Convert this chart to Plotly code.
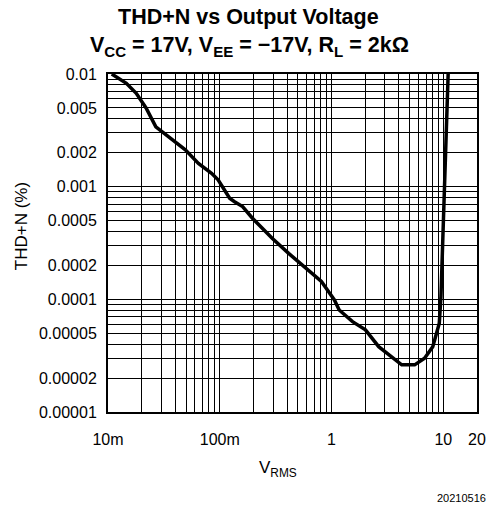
import plotly.graph_objects as go
import math

vrms = [0.0108, 0.0146, 0.0179, 0.0219, 0.0268, 0.0375, 0.0492, 0.0644, 0.0844,
        0.0966, 0.1068, 0.1225, 0.1355, 0.160, 0.196, 0.294, 0.413, 0.541, 0.811,
        1.06, 1.17, 1.54, 2.01, 2.64, 4.24, 5.54, 6.79, 8.04, 9.2, 9.52, 11.04]
thd = [0.01, 0.00826, 0.00674, 0.005, 0.0034, 0.0026, 0.00212, 0.00161, 0.001315,
       0.00115, 0.00097, 0.000789, 0.000736, 0.000665, 0.000525, 0.000348, 0.000256,
       0.000202, 0.000144, 0.0000988, 0.0000805, 0.0000634, 0.0000536, 0.000038,
       0.0000262, 0.0000262, 0.00003, 0.000038, 0.0000614, 0.000106, 0.01]

x_tickvals = [0.01, 0.1, 1, 10, 20]
x_ticktext = ["10m", "100m", "1", "10", "20"]
y_tickvals = [0.01, 0.005, 0.002, 0.001, 0.0005, 0.0002, 0.0001, 0.00005, 0.00002, 0.00001]
y_ticktext = ["0.01", "0.005", "0.002", "0.001", "0.0005", "0.0002", "0.0001",
              "0.00005", "0.00002", "0.00001"]

x_minor = [m * 10 ** e for e in range(-2, 2) for m in range(1, 10) if m * 10 ** e <= 20.001]
x_minor.append(20)
y_minor = [m * 10 ** e for e in range(-5, -2) for m in range(1, 10)]

FONT = "Liberation Sans, Arial, sans-serif"

fig = go.Figure()
fig.add_trace(go.Scatter(x=vrms, y=thd, mode="lines",
                         line=dict(color="black", width=3.5), showlegend=False))

axis_common = dict(showline=True, linecolor="black", linewidth=2, mirror=True,
                   showgrid=True, gridcolor="black", gridwidth=1, ticks="",
                   zeroline=False, tickfont=dict(family=FONT, size=16, color="black"))

fig.update_xaxes(type="log", range=[math.log10(0.01), math.log10(20)],
                 tickmode="array", tickvals=x_tickvals, ticktext=x_ticktext,
                 minor=dict(tickvals=x_minor, showgrid=True, gridcolor="black",
                            gridwidth=1, ticks=""),
                 ticklabelstandoff=12, **axis_common)
fig.update_yaxes(type="log", range=[-5, -2],
                 tickmode="array", tickvals=y_tickvals, ticktext=y_ticktext,
                 minor=dict(tickvals=y_minor, showgrid=True, gridcolor="black",
                            gridwidth=1, ticks=""),
                 ticklabelstandoff=6, **axis_common)

fig.update_layout(
    width=498, height=509,
    margin=dict(l=108, r=16, t=74, b=97),
    plot_bgcolor="white", paper_bgcolor="white",
    font=dict(family=FONT, color="black"),
)

plot_top, plot_bot = 74, 412
plot_left, plot_right = 108, 482
def py(ypix):
    return (plot_bot - ypix) / (plot_bot - plot_top)
def px(xpix):
    return (xpix - plot_left) / (plot_right - plot_left)

fig.add_annotation(text="<b>THD+N vs Output Voltage</b>", xref="paper", yref="paper",
                   x=px(250), y=py(17), xanchor="center", yanchor="middle",
                   showarrow=False, font=dict(size=21.5, family=FONT))
fig.add_annotation(text="<b>V<sub>CC</sub> = 17V, V<sub>EE</sub> = \u221217V, R<sub>L</sub> = 2k\u03a9</b>",
                   xref="paper", yref="paper",
                   x=px(251), y=py(46), xanchor="center", yanchor="middle",
                   showarrow=False, font=dict(size=21.5, family=FONT))
fig.add_annotation(text="THD+N (%)", xref="paper", yref="paper",
                   x=px(20), y=py(226), xanchor="center", yanchor="middle",
                   textangle=-90, showarrow=False, font=dict(size=17, family=FONT))
fig.add_annotation(text="V<sub>RMS</sub>", xref="paper", yref="paper",
                   x=px(280), y=py(469), xanchor="center", yanchor="middle",
                   showarrow=False, font=dict(size=17, family=FONT))
fig.add_annotation(text="20210516", xref="paper", yref="paper",
                   x=px(493), y=py(498), xanchor="right", yanchor="middle",
                   showarrow=False, font=dict(size=11, family=FONT))

fig.write_html("out.html", config={"displayModeBar": False, "staticPlot": True},
               post_script="document.body.style.margin='0';document.body.style.padding='0';")
